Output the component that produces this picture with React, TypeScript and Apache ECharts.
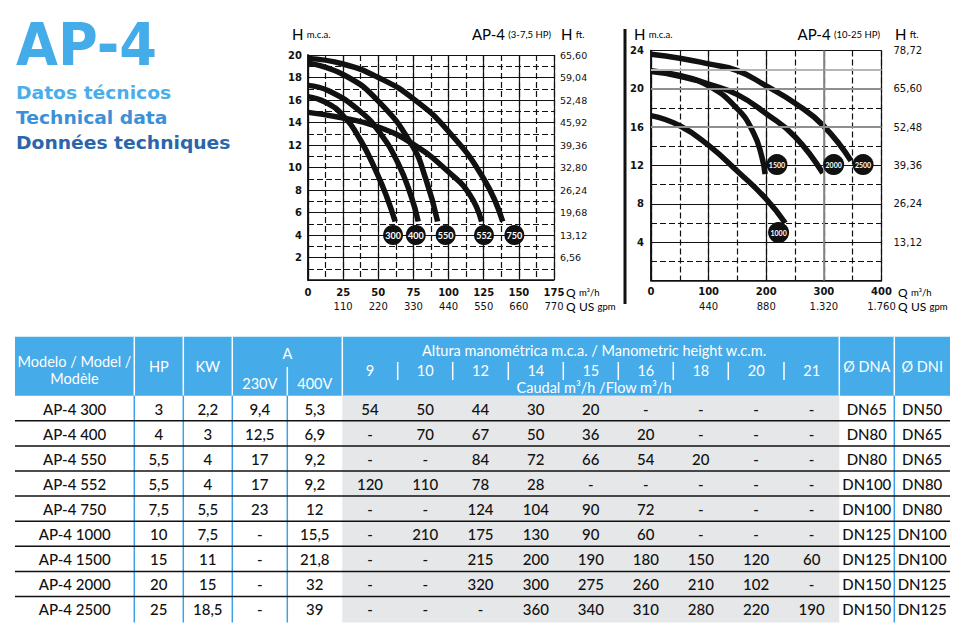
import React, { useEffect, useRef } from 'react';
import * as echarts from 'echarts';

const FONT = 'Lato, "Noto Sans", sans-serif';
const TICKFONT = '"DejaVu Sans", Verdana, sans-serif';

// ---------- Chart 1: AP-4 (3-7,5 HP) ----------
const c1Names = ['300', '400', '550', '552', '750'];
const c1Curve300 = [[0, 16.3], [12.5, 15.8], [25, 14.6], [37.5, 12.4], [49, 9.5], [56, 7.4], [62, 5.2]];
const c1Curve400 = [[0, 17.3], [15, 16.8], [37, 15.0], [51, 13.1], [64, 10.4], [73.5, 7.4], [78.4, 5.2]];
const c1Curve550 = [[0, 19.3], [26, 18.2], [50, 15.9], [73.6, 12.05], [84, 8.9], [92.2, 5.2]];
const c1Curve552 = [[0, 14.9], [25, 14.4], [50, 13.6], [75, 12.05], [100, 9.6], [115, 7.6], [123.5, 5.2]];
const c1Curve750 = [[0, 19.7], [25, 19.2], [50, 18.0], [75, 16.1], [100, 13.2], [125, 9.0], [138.5, 5.2]];
const c1LabelQ = [60.5, 76.7, 97.9, 125.2, 146.8];
const c1LabelH = [4, 4, 4, 4, 4];

// ---------- Chart 2: AP-4 (10-25 HP) ----------
const c2Names = ['1000', '1500', '2000', '2500'];
const c2Curve1000 = [[0, 17.2], [50, 16.15], [100, 14.1], [150, 11.4], [200, 8.5], [233, 6.0]];
const c2Curve1500 = [[0, 21.8], [50, 21.3], [100, 20.3], [150, 17.9], [178, 15.4], [192, 13.0], [198, 11.1]];
const c2Curve2000 = [[0, 21.9], [50, 21.4], [100, 20.5], [150, 19.4], [200, 17.4], [250, 15.0], [298, 11.2]];
const c2Curve2500 = [[0, 23.6], [50, 23.2], [100, 22.6], [150, 21.9], [200, 20.3], [250, 18.5], [300, 16.1], [347, 12.5]];
const c2LabelQ = [221.4, 218.6, 317, 368];
const c2LabelH = [5, 12.1, 12.1, 12.1];
const c2GrayH = [22, 20, 16];
const c2GrayQ = [300];

// ---------- Table ----------
const models = ['AP-4 300', 'AP-4 400', 'AP-4 550', 'AP-4 552', 'AP-4 750', 'AP-4 1000', 'AP-4 1500', 'AP-4 2000', 'AP-4 2500'];
const hp = ['3', '4', '5,5', '5,5', '7,5', '10', '15', '20', '25'];
const kw = ['2,2', '3', '4', '4', '5,5', '7,5', '11', '15', '18,5'];
const amp230 = ['9,4', '12,5', '17', '17', '23', '-', '-', '-', '-'];
const amp400 = ['5,3', '6,9', '9,2', '9,2', '12', '15,5', '21,8', '32', '39'];
const heights = ['9', '10', '12', '14', '15', '16', '18', '20', '21'];
const flow300 = [54, 50, 44, 30, 20, null, null, null, null];
const flow400 = [null, 70, 67, 50, 36, 20, null, null, null];
const flow550 = [null, null, 84, 72, 66, 54, 20, null, null];
const flow552 = [120, 110, 78, 28, null, null, null, null, null];
const flow750 = [null, null, 124, 104, 90, 72, null, null, null];
const flow1000 = [null, 210, 175, 130, 90, 60, null, null, null];
const flow1500 = [null, null, 215, 200, 190, 180, 150, 120, 60];
const flow2000 = [null, null, 320, 300, 275, 260, 210, 102, null];
const flow2500 = [null, null, null, 360, 340, 310, 280, 220, 190];
const dna = ['DN65', 'DN80', 'DN80', 'DN100', 'DN100', 'DN125', 'DN125', 'DN150', 'DN150'];
const dni = ['DN50', 'DN65', 'DN65', 'DN80', 'DN80', 'DN100', 'DN100', 'DN125', 'DN125'];

const c1Curves = [c1Curve300, c1Curve400, c1Curve550, c1Curve552, c1Curve750];
const c2Curves = [c2Curve1000, c2Curve1500, c2Curve2000, c2Curve2500];
const flows = [flow300, flow400, flow550, flow552, flow750, flow1000, flow1500, flow2000, flow2500];

function buildTable(): any[] {
  const els: any[] = [];
  const X0 = 15, X1 = 950;
  const HT = 336.7, HB = 395.7;
  const rowH = 25.1;
  const bodyBottom = 622.5;
  const colEdges = [15, 134.3, 183.3, 232.3, 287.3, 342.3];
  const flowEdges = [342.3, 397.7, 452.7, 508.3, 563.3, 618.3, 673.3, 728.3, 784, 839.3];
  const dnEdges = [839.3, 894.3, 950];
  const headBlue = '#45abe9';
  els.push({ type: 'rect', shape: { x: X0, y: HT, width: X1 - X0, height: HB - HT }, style: { fill: headBlue }, silent: true });
  els.push({ type: 'rect', shape: { x: 342.3, y: HB, width: 839.3 - 342.3, height: bodyBottom - HB }, style: { fill: '#e6e7e8' }, silent: true });
  const wl = (x: number, y1: number, y2: number) => els.push({ type: 'line', shape: { x1: x, y1, x2: x, y2 }, style: { stroke: '#ffffff', lineWidth: 1.5 }, silent: true });
  [134.3, 183.3, 232.3, 342.3, 839.3, 894.3].forEach((x) => wl(x, HT, HB));
  wl(287.3, 367, HB);
  flowEdges.slice(1, -1).forEach((x) => wl(x, 362, 380));
  [134.3, 183.3, 232.3, 287.3, 894.3].forEach((x) =>
    els.push({ type: 'line', shape: { x1: x, y1: HB, x2: x, y2: bodyBottom }, style: { stroke: '#3d9fe8', lineWidth: 1.5 }, silent: true })
  );
  for (let i = 1; i < models.length; i++) {
    const y = HB + i * rowH;
    els.push({ type: 'line', shape: { x1: X0, y1: y, x2: X1, y2: y }, style: { stroke: '#111111', lineWidth: 1.5 }, silent: true });
  }
  const ht = (text: string, x: number, y: number, size = 14.5) =>
    els.push({ type: 'text', x, y, style: { text, fill: '#ffffff', font: `${size}px ${FONT}`, lineHeight: 16.5, align: 'center', verticalAlign: 'middle' }, silent: true });
  ht('Modelo / Model /\nModèle', 74.5, 370.2);
  ht('HP', 158.8, 366.5);
  ht('KW', 207.8, 366.5);
  ht('A', 287.3, 353);
  ht('230V', 259.8, 383);
  ht('400V', 314.8, 383);
  ht('Altura manométrica m.c.a. / Manometric height w.c.m.', 594, 350.5);
  for (let j = 0; j < heights.length; j++) ht(heights[j], (flowEdges[j] + flowEdges[j + 1]) / 2, 370.5);
  ht('Caudal m³/h /Flow m³/h', 594, 387.5);
  ht('Ø DNA', 866.8, 366.5);
  ht('Ø DNI', 922.2, 366.5);

  const bt = (text: string, x: number, y: number) =>
    els.push({ type: 'text', x, y, style: { text, fill: '#111111', font: `500 15px ${FONT}`, lineHeight: 17, align: 'center', verticalAlign: 'middle' }, silent: true });
  for (let i = 0; i < models.length; i++) {
    const y = HB + i * rowH + 12.8;
    const cells = [models[i], hp[i], kw[i], amp230[i], amp400[i]];
    for (let c = 0; c < cells.length; c++) bt(cells[c], (colEdges[c] + colEdges[c + 1]) / 2, y);
    for (let j = 0; j < heights.length; j++) {
      const v = flows[i][j];
      bt(v === null ? '-' : String(v), (flowEdges[j] + flowEdges[j + 1]) / 2, y);
    }
    bt(dna[i], (dnEdges[0] + dnEdges[1]) / 2, y);
    bt(dni[i], (dnEdges[1] + dnEdges[2]) / 2, y);
  }
  return els;
}

function buildTitles(): any[] {
  const els: any[] = [];
  els.push({ type: 'text', x: 16, y: 44, scaleX: 0.92, style: { text: 'AP-4', fill: '#45acea', font: `bold 59px "DejaVu Sans", ${FONT}`, lineHeight: 60, verticalAlign: 'middle' }, silent: true });
  const sub = (text: string, y: number, fill: string) =>
    els.push({ type: 'text', x: 16, y, scaleX: 1.04, style: { text, fill, font: `bold 18px "DejaVu Sans", ${FONT}`, lineHeight: 20, verticalAlign: 'middle' }, silent: true });
  sub('Datos técnicos', 93, '#4aaeea');
  sub('Technical data', 118, '#3b90d8');
  sub('Données techniques', 143, '#2a66aa');

  const rich = {
    big: { fontSize: 15, fontFamily: FONT, color: '#111', lineHeight: 15 },
    mid: { fontSize: 12, fontFamily: FONT, color: '#111', lineHeight: 13 },
    small: { fontSize: 9.5, fontFamily: FONT, color: '#111', lineHeight: 12 },
  };
  const rt = (text: string, x: number, y: number, align = 'left') =>
    els.push({ type: 'text', x, y, style: { text, rich, align, verticalAlign: 'middle' }, silent: true });
  rt('{big|H} {small|m.c.a.}', 292, 34);
  rt('{big|AP-4} {small|(3-7,5 HP)}', 551, 34, 'right');
  rt('{big|H} {small|ft.}', 561, 34);
  rt('{mid|Q} {small|m³/h}', 566, 292);
  rt('{mid|Q} {mid|US} {small|gpm}', 566, 306);
  rt('{big|H} {small|m.c.a.}', 634, 34);
  rt('{big|AP-4} {small|(10-25 HP)}', 880, 34, 'right');
  rt('{big|H} {small|ft.}', 895, 34);
  rt('{mid|Q} {small|m³/h}', 898, 292);
  rt('{mid|Q} {mid|US} {small|gpm}', 898, 306);
  els.push({ type: 'rect', shape: { x: 623.5, y: 29, width: 3, height: 275 }, style: { fill: '#111' }, silent: true });
  return els;
}

const solid = { show: true, lineStyle: { color: '#111', width: 1.2, type: 'solid' } };
const dashed = { show: true, lineStyle: { color: '#111', width: 1.2, type: [6, 3] } };
const hiddenAxisParts = { axisLine: { show: false }, axisTick: { show: false }, axisLabel: { show: false } };

function ftFmt(v: number) {
  if (v === 0) return '';
  return v.toFixed(2).replace('.', ',');
}
function gpmFmt(v: number) {
  if (v === 0) return '';
  const r = Math.round(v);
  return r >= 1000 ? `${Math.floor(r / 1000)}.${String(r % 1000).padStart(3, '0')}` : String(r);
}

export default function App() {
  const ref = useRef<HTMLDivElement>(null);
  useEffect(() => {
    if (!ref.current) return;
    const chart = echarts.init(ref.current, null, { renderer: 'svg' });
    const tickLabel = { fontFamily: TICKFONT, fontSize: 10, color: '#111' };
    const curveStyle = { color: '#111', width: 5.5, cap: 'butt' };
    const option: any = {
      animation: false,
      backgroundColor: '#ffffff',
      grid: [
        { left: 308, top: 55, width: 246, height: 225 },
        { left: 651, top: 50.5, width: 230.5, height: 230 },
      ],
      xAxis: [
        { gridIndex: 0, type: 'value', min: 0, max: 175, interval: 25, position: 'bottom',
          axisLine: { show: true, lineStyle: { color: '#111', width: 1.5 } }, axisTick: { show: false },
          axisLabel: { ...tickLabel, margin: 7, fontWeight: 'bold' }, splitLine: solid },
        { gridIndex: 0, type: 'value', min: 0, max: 770, interval: 110, position: 'bottom', offset: 14,
          axisLine: { show: false }, axisTick: { show: false },
          axisLabel: { ...tickLabel, margin: 7, formatter: gpmFmt }, splitLine: { show: false } },
        { gridIndex: 0, type: 'value', min: 0, max: 175, interval: 12.5, ...hiddenAxisParts, splitLine: dashed },
        { gridIndex: 1, type: 'value', min: 0, max: 400, interval: 100, position: 'bottom',
          axisLine: { show: true, lineStyle: { color: '#111', width: 1.5 } }, axisTick: { show: false },
          axisLabel: { ...tickLabel, margin: 6, fontWeight: 'bold' }, splitLine: solid },
        { gridIndex: 1, type: 'value', min: 0, max: 1760, interval: 440, position: 'bottom', offset: 15,
          axisLine: { show: false }, axisTick: { show: false },
          axisLabel: { ...tickLabel, margin: 6, formatter: gpmFmt }, splitLine: { show: false } },
        { gridIndex: 1, type: 'value', min: 0, max: 400, interval: 50, ...hiddenAxisParts, splitLine: dashed },
      ],
      yAxis: [
        { gridIndex: 0, type: 'value', min: 0, max: 20, interval: 2, position: 'left',
          axisLine: { show: true, lineStyle: { color: '#111', width: 1.5 } }, axisTick: { show: false },
          axisLabel: { ...tickLabel, margin: 6, fontWeight: 'bold', formatter: (v: number) => (v === 0 ? '' : String(v)) },
          splitLine: solid },
        { gridIndex: 0, type: 'value', min: 0, max: 65.6, interval: 6.56, position: 'right',
          axisLine: { show: true, lineStyle: { color: '#111', width: 1.5 } }, axisTick: { show: false },
          axisLabel: { ...tickLabel, fontSize: 9.5, margin: 6, formatter: ftFmt }, splitLine: { show: false } },
        { gridIndex: 0, type: 'value', min: 0, max: 20, interval: 1, ...hiddenAxisParts, splitLine: dashed },
        { gridIndex: 1, type: 'value', min: 0, max: 24, interval: 4, position: 'left',
          axisLine: { show: true, lineStyle: { color: '#111', width: 1.5 } }, axisTick: { show: false },
          axisLabel: { ...tickLabel, margin: 7, fontWeight: 'bold', formatter: (v: number) => (v === 0 ? '' : String(v)) },
          splitLine: solid },
        { gridIndex: 1, type: 'value', min: 0, max: 78.72, interval: 13.12, position: 'right',
          axisLine: { show: true, lineStyle: { color: '#111', width: 1.5 } }, axisTick: { show: false },
          axisLabel: { ...tickLabel, fontSize: 10, margin: 12, formatter: ftFmt }, splitLine: { show: false } },
        { gridIndex: 1, type: 'value', min: 0, max: 24, interval: 2, ...hiddenAxisParts, splitLine: dashed },
      ],
      series: [
        ...c1Curves.map((d, i) => ({
          name: c1Names[i], type: 'line', xAxisIndex: 0, yAxisIndex: 0, data: d, smooth: 0.5,
          showSymbol: false, symbol: 'none', lineStyle: curveStyle, z: 3, silent: true,
        })),
        {
          type: 'scatter', xAxisIndex: 0, yAxisIndex: 0, z: 5, silent: true,
          data: c1Names.map((n, i) => [c1LabelQ[i], c1LabelH[i], n]),
          symbolSize: 20, itemStyle: { color: '#111', opacity: 1 },
          label: { show: true, position: 'inside', formatter: (p: any) => p.value[2], color: '#fff', fontSize: 9, fontWeight: 'bold', fontFamily: FONT },
        },
        {
          type: 'line', xAxisIndex: 3, yAxisIndex: 3, data: [], z: 1, silent: true,
          markLine: {
            silent: true, symbol: ['none', 'none'], label: { show: false },
            data: [
              ...c2GrayH.map((h, i) => ({ yAxis: h, lineStyle: { color: i === 0 ? '#b5b5b5' : '#8f8f8f', width: 1.8, type: 'solid' } })),
              ...c2GrayQ.map((q) => ({ xAxis: q, lineStyle: { color: '#8f8f8f', width: 1.8, type: 'solid' } })),
            ],
          },
        },
        ...c2Curves.map((d, i) => ({
          name: c2Names[i], type: 'line', xAxisIndex: 3, yAxisIndex: 3, data: d, smooth: 0.5,
          showSymbol: false, symbol: 'none', lineStyle: curveStyle, z: 3, silent: true,
        })),
        {
          type: 'scatter', xAxisIndex: 3, yAxisIndex: 3, z: 5, silent: true,
          data: c2Names.map((n, i) => [c2LabelQ[i], c2LabelH[i], n]),
          symbolSize: 21, itemStyle: { color: '#111', opacity: 1 },
          label: { show: true, position: 'inside', formatter: (p: any) => p.value[2], color: '#fff', fontSize: 7, fontFamily: FONT, fontWeight: 'bold' },
        },
      ],
      graphic: [...buildTitles(), ...buildTable()],
    };
    chart.setOption(option);
    return () => chart.dispose();
  }, []);
  return <div ref={ref} style={{ position: 'fixed', left: 0, top: 0, width: 976, height: 630, background: '#fff' }} />;
}
